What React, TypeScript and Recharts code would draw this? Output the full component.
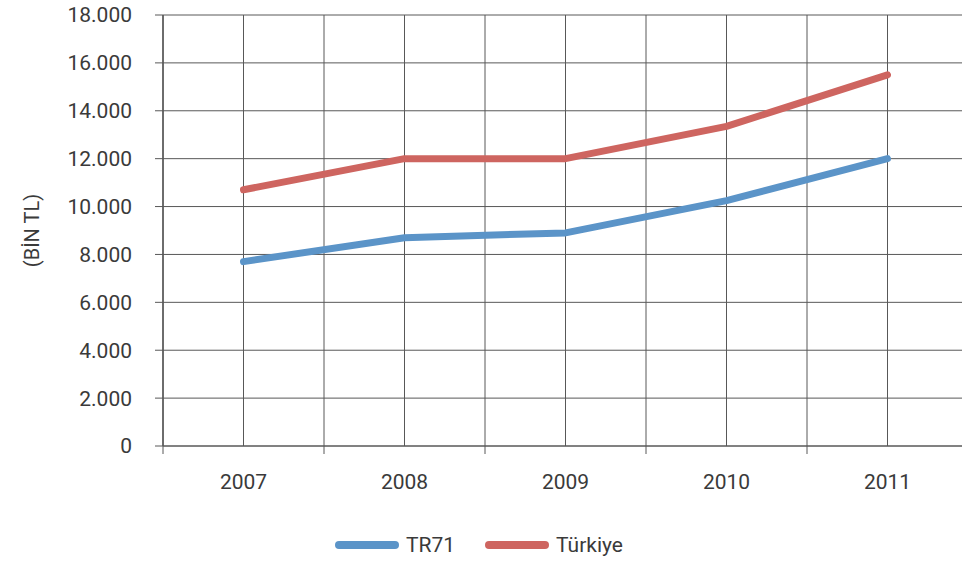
import { CartesianGrid, Legend, Line, LineChart, XAxis, YAxis } from "recharts";

const years = ["2007", "2008", "2009", "2010", "2011"];
const tr71 = [7700, 8700, 8900, 10250, 12000];
const turkiye = [10700, 12000, 12000, 13350, 15500];
const yTicks = [0, 2000, 4000, 6000, 8000, 10000, 12000, 14000, 16000, 18000];

// categories sit in the middle of each band, band edges get the tick marks
const data = years.map((year, i) => ({ x: i + 0.5, year, tr71: tr71[i], turkiye: turkiye[i] }));
const edgeTicks = years.map((_, i) => i).concat(years.length);
const centerTicks = data.map((d) => d.x);

const GRID = "#585858";
const TEXT = "#3a3a3a";
const FONT = "Roboto, sans-serif";

const fmt = (v: number) => v.toLocaleString("de-DE");

function LegendContent({ payload }: any) {
  return (
    <div style={{ display: "flex", justifyContent: "center", alignItems: "center", height: 50, paddingLeft: 20, fontFamily: FONT, fontSize: 21, color: TEXT }}>
      {(payload || []).map((p: any) => (
        <div key={p.value} style={{ display: "flex", alignItems: "center", marginRight: 30 }}>
          <span style={{ display: "inline-block", width: 64, height: 8, borderRadius: 4, background: p.color, marginRight: 7 }} />
          <span>{p.value}</span>
        </div>
      ))}
    </div>
  );
}

export default function App() {
  return (
    <div style={{ position: "absolute", left: 0, top: 0, width: 962, height: 570, overflow: "hidden", background: "#fff" }}>
      <LineChart width={980} height={570} data={data} margin={{ top: 15, right: 12, left: 0, bottom: 0 }}>
        <CartesianGrid stroke={GRID} xAxisId={0} />
        <CartesianGrid stroke={GRID} xAxisId="lab" horizontal={false} />
        <XAxis
          xAxisId={0}
          type="number"
          dataKey="x"
          domain={[0, 5]}
          ticks={edgeTicks}
          tickFormatter={() => ""}
          tickSize={8}
          height={8}
          stroke={GRID}
          interval={0}
        />
        <XAxis
          xAxisId="lab"
          type="number"
          dataKey="x"
          domain={[0, 5]}
          ticks={centerTicks}
          tickFormatter={(v: number) => years[Math.floor(v)]}
          axisLine={false}
          tickLine={false}
          tickSize={0}
          tickMargin={20}
          height={66}
          interval={0}
          tick={{ fill: TEXT, fontSize: 21, fontFamily: FONT }}
        />
        <YAxis
          domain={[0, 18000]}
          ticks={yTicks}
          tickFormatter={fmt}
          width={163}
          tickSize={8}
          tickMargin={23}
          stroke={GRID}
          interval={0}
          tick={{ fill: TEXT, fontSize: 21, fontFamily: FONT }}
          label={{ value: "(BİN TL)", angle: -90, position: "insideLeft", offset: 32, style: { fill: TEXT, fontSize: 20, fontFamily: FONT, textAnchor: "middle" } }}
        />
        <Legend verticalAlign="bottom" height={50} content={<LegendContent />} />
        <Line xAxisId={0} dataKey="tr71" name="TR71" stroke="#5B94C8" strokeWidth={7} strokeLinecap="round" strokeLinejoin="round" dot={false} isAnimationActive={false} />
        <Line xAxisId={0} dataKey="turkiye" name="Türkiye" stroke="#CE6560" strokeWidth={7} strokeLinecap="round" strokeLinejoin="round" dot={false} isAnimationActive={false} />
      </LineChart>
    </div>
  );
}
